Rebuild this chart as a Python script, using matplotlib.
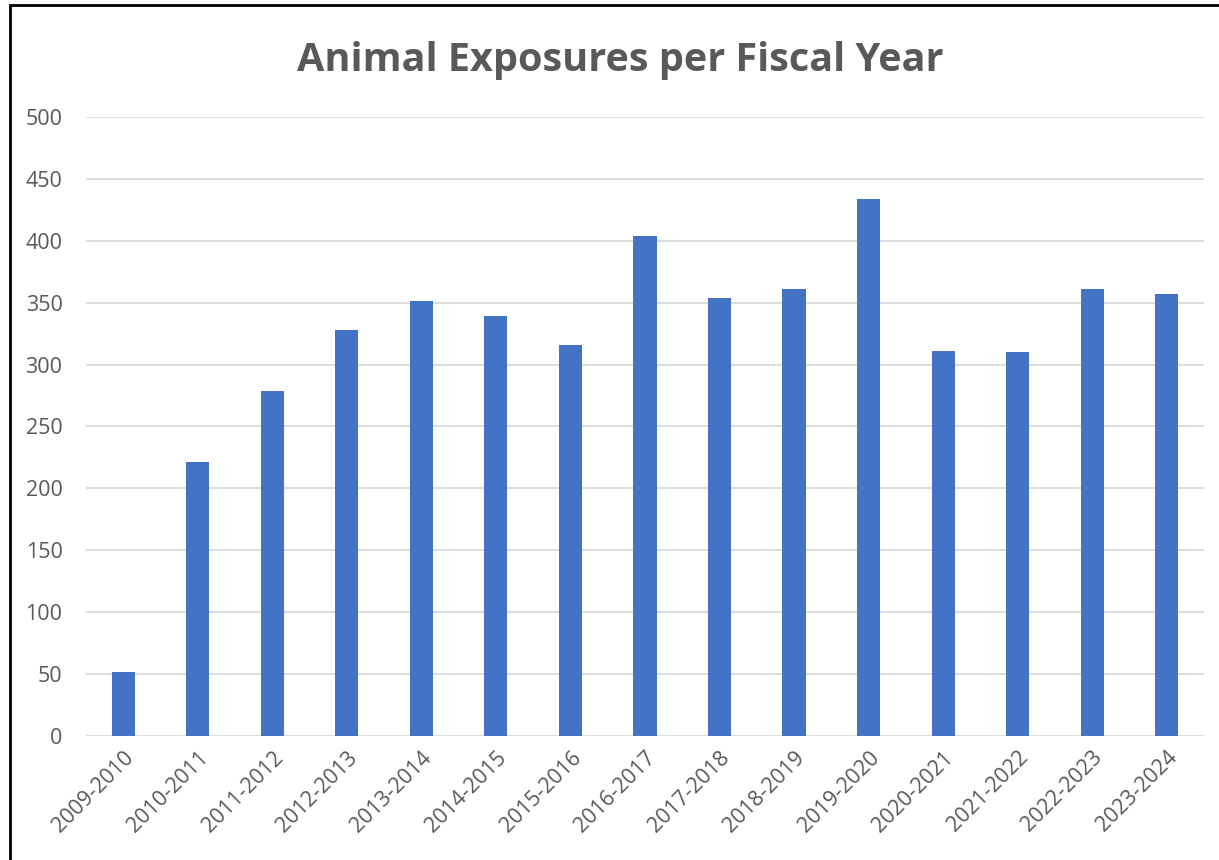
import matplotlib
matplotlib.use("Agg")
import matplotlib.pyplot as plt
from matplotlib.patches import Rectangle

years = ["2009-2010", "2010-2011", "2011-2012", "2012-2013", "2013-2014",
         "2014-2015", "2015-2016", "2016-2017", "2017-2018", "2018-2019",
         "2019-2020", "2020-2021", "2021-2022", "2022-2023", "2023-2024"]
exposures = [52, 221, 279, 328, 351, 339, 316, 404, 354, 361, 434, 311, 310, 361, 357]
yticks = [0, 50, 100, 150, 200, 250, 300, 350, 400, 450, 500]

plt.rcParams['font.family'] = ['Open Sans', 'DejaVu Sans']
grey = '#595959'

fig = plt.figure(figsize=(12.19, 8.6), dpi=100)
ax = fig.add_axes([0.0706, 0.1442, 0.917, 0.7198])

x = range(len(years))
ax.bar(x, exposures, width=0.31, color='#4472C4', zorder=3)

ax.set_ylim(0, 500)
ax.set_xlim(-0.5, len(years) - 0.5)
ax.set_yticks(yticks)
ax.set_xticks(list(x))
ax.set_xticklabels(years, rotation=45, ha='right', va='top', rotation_mode='anchor')
ax.tick_params(axis='both', length=0, colors=grey, labelsize=15.5)
ax.tick_params(axis='y', pad=17)
ax.tick_params(axis='x', pad=8)
ax.grid(axis='y', color='#d9d9d9', linewidth=1.3, zorder=0)
for s in ax.spines.values():
    s.set_visible(False)

fig.text(0.509, 0.930, "Animal Exposures per Fiscal Year", ha='center', va='center',
         fontsize=28.5, fontweight='bold', color=grey)

# outer frame (only left and top visible in the crop)
fig.patches.append(Rectangle((10 / 1219, -0.1), 1.2, 1 - 5 / 860 + 0.1,
                             transform=fig.transFigure, fill=False,
                             edgecolor='black', linewidth=2, zorder=10))

fig.savefig("out.png", dpi=100)
